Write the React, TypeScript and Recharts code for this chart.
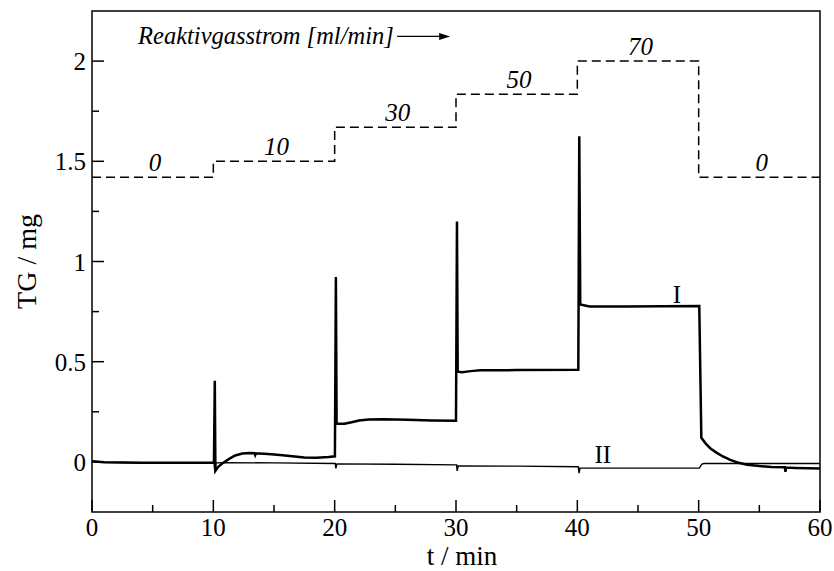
import { LineChart, Line, XAxis, YAxis, ReferenceArea, ReferenceDot, Label } from "recharts";

// Reaktivgasstrom steps (dashed, top)
const stepT = [0, 10, 20, 30, 40, 50, 60];
const stepV = [1.42, 1.5, 1.67, 1.835, 2.0, 1.42, 1.42];
const flowRates = ["0", "10", "30", "50", "70", "0"];

// curve I (thick)
const iT = [
  0, 1, 4, 8, 10.05, 10.12, 10.17, 10.4, 10.8, 11.3, 11.8, 12.4, 13.0, 13.4, 13.45, 13.5,
  14.5, 15.5, 16.5, 17.5, 18.5, 19.5, 20.02, 20.1, 20.16, 20.8, 21.4, 22.0, 22.8, 24, 26, 28,
  30.0, 30.08, 30.14, 30.5, 31.2, 32, 35, 40.08, 40.16, 40.24, 41, 44, 47, 50.05, 50.22,
  50.6, 51.0, 51.5, 52.0, 52.6, 53.2, 54, 55, 56, 57.1, 57.15, 57.2, 58, 59, 60,
];
const iV = [
  0.003, -0.002, -0.004, -0.004, -0.004, 0.405, -0.045, -0.025, -0.005, 0.015, 0.032, 0.042, 0.044, 0.043, 0.035, 0.043,
  0.04, 0.035, 0.028, 0.022, 0.021, 0.024, 0.028, 0.922, 0.19, 0.19, 0.198, 0.207, 0.212, 0.213, 0.21, 0.207,
  0.205, 1.2, 0.45, 0.448, 0.453, 0.457, 0.458, 0.46, 1.625, 0.785, 0.776, 0.776, 0.777, 0.778, 0.12,
  0.09, 0.066, 0.045, 0.027, 0.01, -0.003, -0.014, -0.021, -0.025, -0.027, -0.05, -0.028, -0.03, -0.032, -0.033,
];

// curve II (thin)
const iiT = [
  0, 1, 4, 8, 10.05, 10.12, 10.2, 11, 15, 20.05, 20.1, 20.18, 25, 30.05, 30.1, 30.18,
  35, 40.08, 40.14, 40.22, 45, 50.05, 50.25, 50.4, 55, 60,
];
const iiV = [
  0.003, -0.002, -0.004, -0.004, -0.004, -0.045, -0.005, -0.004, -0.005, -0.008, -0.032, -0.01, -0.012, -0.015, -0.045, -0.02,
  -0.021, -0.024, -0.056, -0.031, -0.031, -0.031, -0.012, -0.008, -0.008, -0.008,
];

const xTicks = [0, 5, 10, 15, 20, 25, 30, 35, 40, 45, 50, 55, 60];
const yTicks = [0, 0.25, 0.5, 0.75, 1, 1.25, 1.5, 1.75, 2];

const stepData = stepT.map((t, i) => ({ t, v: stepV[i] }));
const dataI = iT.map((t, i) => ({ t, v: iV[i] }));
const dataII = iiT.map((t, i) => ({ t, v: iiV[i] }));

const FONT = "'Liberation Serif', 'Times New Roman', serif";

function YTick(props: any) {
  const { x, y, payload } = props;
  const v = payload.value;
  const major = Math.abs(v * 2 - Math.round(v * 2)) < 1e-6;
  return (
    <g>
      <line x1={x} x2={x + (major ? 12 : 7)} y1={y} y2={y} stroke="#000" strokeWidth={1.5} />
      {major && (
        <text x={x - 6} y={y + 9} textAnchor="end" fontFamily={FONT} fontSize={25} fill="#000">
          {String(v)}
        </text>
      )}
    </g>
  );
}

function XTick(props: any) {
  const { x, y, payload } = props;
  const v = payload.value;
  const major = v % 10 === 0;
  return (
    <g>
      <line x1={x} x2={x} y1={y} y2={y - (major ? 12 : 7)} stroke="#000" strokeWidth={1.5} />
      {major && (
        <text x={x} y={y + 24} textAnchor="middle" fontFamily={FONT} fontSize={25} fill="#000">
          {String(v)}
        </text>
      )}
    </g>
  );
}

const textShape = (text: string, opts: { anchor?: string; dy?: number; italic?: boolean }) => (p: any) => (
  <text
    x={p.cx}
    y={p.cy + (opts.dy ?? 0)}
    textAnchor={opts.anchor ?? "middle"}
    fontFamily={FONT}
    fontSize={25}
    fontStyle={opts.italic ? "italic" : "normal"}
    fill="#000"
  >
    {text}
  </text>
);

const titleShape = (p: any) => (
  <g>
    <text x={p.cx} y={p.cy} fontFamily={FONT} fontSize={24.5} fontStyle="italic" fill="#000">
      Reaktivgasstrom [ml/min]
    </text>
    <line x1={p.cx + 259} x2={p.cx + 304} y1={p.cy - 8} y2={p.cy - 8} stroke="#000" strokeWidth={1.2} />
    <polygon
      points={`${p.cx + 312},${p.cy - 8} ${p.cx + 301},${p.cy - 11.5} ${p.cx + 301},${p.cy - 4.5}`}
      fill="#000"
    />
  </g>
);

export default function App() {
  return (
    <div style={{ position: "absolute", left: 0, top: 0, width: 834, height: 571, background: "#fff" }}>
      <LineChart width={834} height={571} margin={{ top: 11, right: 14, bottom: 0, left: 0 }}>
        <XAxis
          dataKey="t"
          type="number"
          domain={[0, 60]}
          ticks={xTicks}
          interval={0}
          height={59}
          axisLine={false}
          tickLine={false}
          tickSize={0}
          tickMargin={0}
          tick={<XTick />}
          allowDataOverflow
        >
          <Label
            content={(p: any) => {
              const vb = p.viewBox;
              return (
                <text x={vb.x + vb.width / 2 + 6} y={vb.y + 53} textAnchor="middle" fontFamily={FONT} fontSize={27} fill="#000">
                  t / min
                </text>
              );
            }}
          />
        </XAxis>
        <YAxis
          type="number"
          domain={[-0.25, 2.25]}
          ticks={yTicks}
          interval={0}
          width={92}
          axisLine={false}
          tickLine={false}
          tickSize={0}
          tickMargin={0}
          tick={<YTick />}
          allowDataOverflow
        >
          <Label
            content={(p: any) => {
              const vb = p.viewBox;
              const cy = vb.y + vb.height / 2;
              return (
                <text x={36} y={cy} transform={`rotate(-90 36 ${cy})`} textAnchor="middle" fontFamily={FONT} fontSize={28} fill="#000">
                  TG / mg
                </text>
              );
            }}
          />
        </YAxis>
        <ReferenceArea x1={0} x2={60} y1={-0.25} y2={2.25} fill="none" stroke="#000" strokeWidth={1.5} ifOverflow="visible" />
        <Line
          data={stepData}
          dataKey="v"
          type="stepAfter"
          stroke="#000"
          strokeWidth={1.5}
          strokeDasharray="9 5"
          dot={false}
          isAnimationActive={false}
        />
        <Line data={dataII} dataKey="v" type="linear" stroke="#000" strokeWidth={1.4} dot={false} isAnimationActive={false} />
        <Line data={dataI} dataKey="v" type="linear" stroke="#000" strokeWidth={2.5} dot={false} isAnimationActive={false} />
        {flowRates.map((f, i) => (
          <ReferenceDot
            key={i}
            x={stepT[i] + 5.2}
            y={stepV[i]}
            r={0}
            ifOverflow="visible"
            shape={textShape(f, { italic: true, dy: -6 })}
          />
        ))}
        <ReferenceDot x={3.8} y={2.083} r={0} ifOverflow="visible" shape={titleShape} />
        <ReferenceDot x={48.2} y={0.795} r={0} ifOverflow="visible" shape={textShape("I", {})} />
        <ReferenceDot x={42.1} y={-0.004} r={0} ifOverflow="visible" shape={textShape("II", {})} />
      </LineChart>
    </div>
  );
}
